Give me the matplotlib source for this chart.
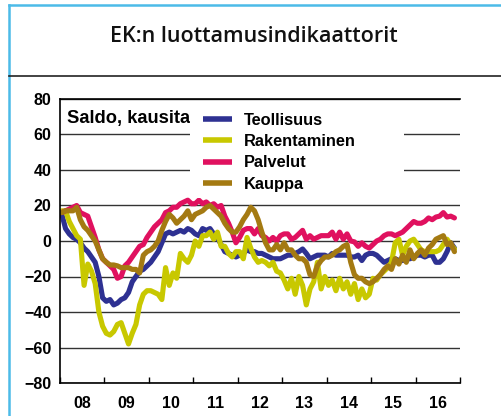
import numpy as np
import matplotlib
matplotlib.use("Agg")
import matplotlib.pyplot as plt
from matplotlib.lines import Line2D
from matplotlib.patches import Rectangle
from matplotlib.font_manager import FontProperties

# monthly balance figures, Jan 2008 - Nov 2016
teollisuus = [15, 7, 4, 2, 1, -1, -4, -6, -9, -12, -20, -32,
              -34, -33, -36, -35, -33, -32, -29, -23, -20, -17, -16, -14,
              -12, -9, -6, -1, 4, 5, 4, 5, 6, 5, 7, 6,
              4, 3, 7, 6, 7, 4, 2, -2, -6, -7, -8, -9,
              -8, -7, -5, -6, -6, -7, -7, -8, -9, -10, -10, -10,
              -9, -8, -8, -7, -6, -4.5, -7, -10, -9, -8, -8, -8,
              -9, -7, -8, -8, -8, -8, -9, -9, -8, -11, -8, -7,
              -7, -8, -10, -12, -11, -10, -10, -11, -11, -10, -10, -9,
              -8, -8, -9, -8, -8, -12, -12, -10, -6, -1, -4]
rakentaminen = [17, 17, 11, 7, 3, 1, -25, -13, -17, -24, -40, -48,
                -52, -53, -51, -47, -46, -52, -58, -52, -47, -36, -30, -28,
                -28, -29, -30, -33, -15, -25, -18, -21, -7, -10, -12, -8,
                0, -3, 3, 3, 5, 1, 5, -3, -3, -7, -9, -6,
                -6, -10, 2, -4, -9, -12, -11, -12, -14, -12, -17, -18,
                -22, -27, -21, -30, -20, -25, -36, -27, -23, -12, -27, -20,
                -25, -22, -28, -21, -27, -23, -30, -24, -33, -27, -32, -30,
                -21, -22, -19, -17, -15, -12, -1, 1, -8, -3, 0, 1,
                -2, -5, -6, -6, -6, -6, -5, -2, 1, -2, -4.5]
palvelut = [16, 17, 18, 19, 20, 16, 15, 14, 8, 2, -5, -10,
            -12, -14, -16, -21, -20, -14, -12, -9, -6, -3, -2, 2,
            5, 8, 10, 12, 16, 17, 19, 19, 21, 22, 23, 21,
            21, 23, 21, 22, 20, 21, 19, 20, 14, 10, 5, -1,
            2, 6, 7, 7, 4, 7, 3, 2, 0, 2, 0, 3,
            4, 4, 1, 2, 4, 6, 1, 3, 1, 2, 3, 3,
            3, 5, 1, 5, 1, 4, 0, -0.5, -3, -1, -3, -4,
            -2, 0, 1, 3, 4, 4, 3, 4, 5, 7, 9, 11,
            10, 10, 11, 13, 12, 13.5, 14, 16, 13.5, 14, 13]
kauppa = [16, 17, 17, 17, 19, 12, 8, 6, 3, 0, -5, -10,
          -12, -13.5, -13.5, -14, -15, -15, -15, -16, -16, -18, -8, -6,
          -5, -3, 0, 6, 11, 15, 13, 10, 12, 14, 17, 12,
          15, 16, 17, 19, 20, 18, 16, 14, 10, 7, 5, 5,
          8, 12, 15, 19, 17, 12, 5, -1, -5, -5, -2, -5,
          -1, -5, -5, -8, -10, -10, -12, -19, -20, -14, -11, -9,
          -9, -8, -6, -5, -3, -2, -12, -19, -21, -21, -23, -24,
          -23, -21, -19, -16, -14, -16, -10, -13, -8, -12, -5, -10,
          -7, -5, -8, -4, -2, 1, 2, 3, -2, -1, -6]

series_names = ["Teollisuus", "Rakentaminen", "Palvelut", "Kauppa"]
series_colors = ["#2e3192", "#c8c800", "#e0115f", "#a47a12"]
year_labels = ["08", "09", "10", "11", "12", "13", "14", "15", "16"]

months = np.arange(len(teollisuus))
x = 2008 + (months + 0.5) / 12

fig = plt.figure(figsize=(5.02, 4.16), dpi=100)
W, H = 502, 416

# outer frame and title band
fig.add_artist(Line2D([9 / W, 9 / W], [0, 1 - 5 / H], transform=fig.transFigure,
                      color="#4cbbe8", lw=1.8))
fig.add_artist(Line2D([9 / W, 1], [1 - 5 / H, 1 - 5 / H], transform=fig.transFigure,
                      color="#4cbbe8", lw=1.8))
fig.add_artist(Line2D([9 / W, 1], [1 - 76 / H, 1 - 76 / H], transform=fig.transFigure,
                      color="#222222", lw=1.2))
fig.text(254 / W, 1 - 36 / H, "EK:n luottamusindikaattorit", ha="center", va="center",
         fontsize=15.5, family="Open Sans", weight="semibold", color="#111111")

ax = fig.add_axes([60 / W, 1 - 383 / H, 400 / W, 284 / H])

for vals, name, col in zip([teollisuus, rakentaminen, palvelut, kauppa], series_names, series_colors):
    ax.plot(x, vals, color=col, lw=3.7, label=name, solid_joinstyle="round",
            solid_capstyle="round", zorder=2)

ax.set_xlim(2008, 2017)
ax.set_ylim(-80, 80)
ax.set_yticks(np.arange(-80, 81, 20))
ax.set_xticks(np.arange(2008, 2018))
ax.set_xticklabels([])
ax.set_xticks(np.arange(2008.5, 2017, 1), minor=True)
ax.set_xticklabels(year_labels, minor=True)

tick_font = dict(family="Liberation Sans", weight="bold", size=11.5)
for lab in ax.get_yticklabels() + ax.get_xticklabels(minor=True):
    lab.set_fontproperties(FontProperties(**tick_font))

ax.tick_params(axis="y", length=0, pad=6)
ax.tick_params(axis="x", which="major", direction="in", length=4, width=1, color="black")
ax.tick_params(axis="x", which="minor", length=0, pad=9)
ax.yaxis.grid(True, color="#333333", lw=1.0, zorder=0)
ax.set_axisbelow(True)
ax.spines["right"].set_visible(False)
for s in ["left", "bottom", "top"]:
    ax.spines[s].set_color("black")
    ax.spines[s].set_linewidth(1.2)

# only the part left of the legend box is visible in the original
ax.text(7 / 400, (383 - 118) / 284, "Saldo, kausita", transform=ax.transAxes,
        ha="left", va="center", zorder=3, family="Liberation Sans", weight="bold", size=13.2)
ax.add_patch(Rectangle((130 / 400, (383 - 198) / 284), 214 / 400, 97 / 284,
                       transform=ax.transAxes, facecolor="white", edgecolor="none", zorder=4))

leg = ax.legend(loc="upper left", bbox_to_anchor=((203 - 60) / 400, (383 - 113) / 284),
                frameon=False, borderpad=0, borderaxespad=0, handlelength=1.8,
                handletextpad=0.7, labelspacing=0.38,
                prop=FontProperties(family="Liberation Sans", weight="bold", size=11.8))
leg.set_zorder(5)
for h in leg.get_lines():
    h.set_linewidth(4)
    h.set_solid_capstyle("butt")

fig.savefig("out.png", dpi=100)
